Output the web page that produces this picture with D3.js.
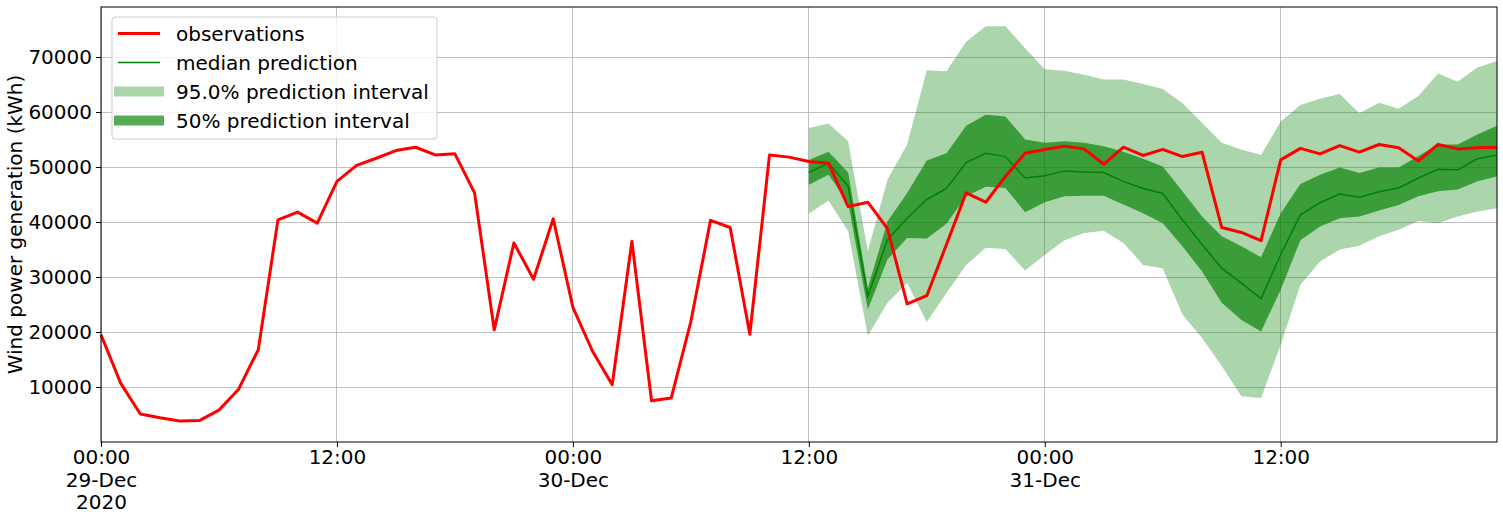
<!DOCTYPE html>
<html>
<head>
<meta charset="utf-8">
<script src="https://cdn.jsdelivr.net/npm/d3@7"></script>
<style>
  body { margin: 0; background: #fff; }
  svg text { font-family: "DejaVu Sans", sans-serif; font-size: 20px; fill: #000; }
  .grid line { stroke: #b0b0b0; stroke-width: 0.8px; shape-rendering: crispEdges; }
  .axis path, .axis line { stroke: #000; }
</style>
</head>
<body>
<svg id="chart"></svg>
<script>
// hourly observations from 29-Dec-2020 00:00
var startTime = Date.UTC(2020, 11, 29, 0);
var obsValues = [19500, 10700, 5100, 4400, 3800, 3900, 5800, 9600, 16800, 40400,
  41800, 39800, 47400, 50300, 51600, 53000, 53600, 52200, 52400, 45300,
  20400, 36200, 29600, 40600, 24500, 16500, 10400, 36500, 7500, 8000,
  21900, 40300, 39000, 19600, 52200, 51800, 51000, 50700, 42800, 43600,
  38800, 25100, 26600, 35900, 45300, 43600, 48300, 52500, 53200, 53800,
  53300, 50500, 53600, 52100, 53200, 51900, 52700, 39000, 38100, 36600,
  51300, 53400, 52400, 53900, 52700, 54100, 53500, 51100, 54100, 53300,
  53500, 53600];

// forecast starts at hour 36 (30-Dec 12:00)
var predStart = 36;
var predMedian = [49000, 50700, 46500, 26500, 36800, 40700, 44100, 46100, 50800, 52500,
  51900, 48000, 48400, 49300, 49100, 49000, 47400, 46100, 45200, 40400,
  35900, 31600, 28900, 26100, 34100, 41300, 43500, 45100, 44500, 45500,
  46200, 48000, 49600, 49500, 51500, 52200];
var predLower50 = [46800, 48600, 43500, 24100, 33200, 37100, 37000, 39700, 44700, 46400,
  46200, 41800, 43600, 44700, 44800, 44800, 43200, 41600, 39800, 35600,
  31000, 25300, 22200, 20100, 27700, 36700, 39200, 40700, 41000, 42100,
  43100, 44700, 45600, 45900, 47400, 48300];
var predUpper50 = [51300, 52800, 49000, 28000, 40100, 45300, 51200, 52500, 57500, 59500,
  59200, 55000, 54400, 54700, 54400, 53800, 52800, 51500, 50100, 45600,
  41000, 37400, 35600, 33600, 41600, 46900, 48600, 49900, 48900, 49900,
  49900, 52000, 54100, 54100, 55900, 57500];
var predLower95 = [41500, 43900, 38300, 19300, 25300, 28900, 21800, 27100, 32200, 35300,
  35100, 31200, 34000, 36700, 38000, 38400, 36200, 32200, 31600, 23200,
  18900, 13800, 8300, 8000, 17700, 28600, 32800, 35000, 35700, 37400,
  38600, 40200, 39800, 41000, 41900, 42500];
var predUpper95 = [57100, 57900, 54700, 34700, 47700, 54100, 67600, 67400, 72800, 75600,
  75600, 71600, 67800, 67500, 66800, 65900, 65900, 65100, 64200, 61600,
  58000, 54400, 53200, 52200, 58300, 61300, 62400, 63300, 59800, 61700,
  60600, 62900, 67000, 65500, 68100, 69300];

var yTicks = [10000, 20000, 30000, 40000, 50000, 60000, 70000];
var xTickHours = [0, 12, 24, 36, 48, 60];
var xTickLabels = [["00:00", "29-Dec", "2020"], ["12:00"], ["00:00", "30-Dec"], ["12:00"], ["00:00", "31-Dec"], ["12:00"]];

var legendItems = [
  {label: "observations", kind: "line", color: "#ff0000", width: 3},
  {label: "median prediction", kind: "line", color: "green", width: 1.5},
  {label: "95.0% prediction interval", kind: "patch", opacity: 0.33},
  {label: "50% prediction interval", kind: "patch", opacity: 0.66}
];

var W = 1503, H = 519;
var margin = {top: 7, right: 6, bottom: 77, left: 101};
var width = W - margin.left - margin.right,
    height = H - margin.top - margin.bottom;

var hourMs = 3600 * 1000;
function t(h) { return new Date(startTime + h * hourMs); }

var svg = d3.select("#chart").attr("width", W).attr("height", H);
var g = svg.append("g").attr("transform", "translate(" + margin.left + "," + margin.top + ")");

var x = d3.scaleUtc().domain([t(0), t(71)]).range([0, width]);
var y = d3.scaleLinear().domain([0, 79100]).range([height, 0]);

// grid
g.append("g").attr("class", "grid")
  .selectAll("line.h").data(yTicks).enter().append("line")
  .attr("x1", 0).attr("x2", width)
  .attr("y1", function(d) { return y(d); }).attr("y2", function(d) { return y(d); });
g.append("g").attr("class", "grid")
  .selectAll("line.v").data(xTickHours).enter().append("line")
  .attr("y1", 0).attr("y2", height)
  .attr("x1", function(d) { return x(t(d)); }).attr("x2", function(d) { return x(t(d)); });

// prediction bands
var predHours = predMedian.map(function(d, i) { return predStart + i; });

var band95 = d3.area()
  .x(function(h, i) { return x(t(h)); })
  .y0(function(h, i) { return y(predLower95[i]); })
  .y1(function(h, i) { return y(predUpper95[i]); });
var band50 = d3.area()
  .x(function(h, i) { return x(t(h)); })
  .y0(function(h, i) { return y(predLower50[i]); })
  .y1(function(h, i) { return y(predUpper50[i]); });

g.append("path").datum(predHours).attr("d", band95)
  .attr("fill", "green").attr("fill-opacity", 0.33);
g.append("path").datum(predHours).attr("d", band50)
  .attr("fill", "green").attr("fill-opacity", 0.66);

var medLine = d3.line()
  .x(function(h) { return x(t(h)); })
  .y(function(h, i) { return y(predMedian[i]); });
g.append("path").datum(predHours).attr("d", medLine)
  .attr("fill", "none").attr("stroke", "green").attr("stroke-width", 1.5);

// observations
var obsLine = d3.line()
  .x(function(d, i) { return x(t(i)); })
  .y(function(d) { return y(d); });
g.append("path").datum(obsValues).attr("d", obsLine)
  .attr("fill", "none").attr("stroke", "#ff0000").attr("stroke-width", 3)
  .attr("stroke-linejoin", "round");

// frame
g.append("rect").attr("width", width).attr("height", height)
  .attr("fill", "none").attr("stroke", "#000").attr("stroke-width", 1);

// axes
var yAxis = g.append("g").attr("class", "axis")
  .call(d3.axisLeft(y).tickValues(yTicks).tickSize(5).tickPadding(4).tickFormat(d3.format("d")));
yAxis.select(".domain").remove();
yAxis.attr("font-size", null).attr("font-family", null);

var xAxis = g.append("g").attr("class", "axis")
  .attr("transform", "translate(0," + height + ")")
  .call(d3.axisBottom(x).tickValues(xTickHours.map(t)).tickSize(5).tickFormat(""));
xAxis.select(".domain").remove();
xAxis.attr("font-size", null).attr("font-family", null);
xAxis.selectAll(".tick").each(function(d, i) {
  var lines = xTickLabels[i];
  var txt = d3.select(this).append("text").attr("text-anchor", "middle");
  lines.forEach(function(s, k) {
    txt.append("tspan").attr("x", 0).attr("y", 22 + k * 22.5).text(s);
  });
});

// y label
svg.append("text")
  .attr("transform", "translate(22," + (margin.top + height / 2) + ") rotate(-90)")
  .attr("text-anchor", "middle")
  .text("Wind power generation (kWh)");

// legend
var leg = svg.append("g").attr("transform", "translate(112,17)");
leg.append("rect").attr("width", 325).attr("height", 122).attr("rx", 3)
  .attr("fill", "#fff").attr("fill-opacity", 0.8)
  .attr("stroke", "#cccccc").attr("stroke-width", 1);
legendItems.forEach(function(d, i) {
  var cy = 16.5 + i * 29;
  var row = leg.append("g").attr("transform", "translate(0," + cy + ")");
  if (d.kind === "line") {
    row.append("line").attr("x1", 6).attr("x2", 48).attr("y1", 0).attr("y2", 0)
      .attr("stroke", d.color).attr("stroke-width", d.width);
  } else {
    row.append("rect").attr("x", 2).attr("y", -5).attr("width", 50).attr("height", 10)
      .attr("fill", "green").attr("fill-opacity", d.opacity);
  }
  row.append("text").attr("x", 64).attr("y", 7).text(d.label);
});
</script>
</body>
</html>
